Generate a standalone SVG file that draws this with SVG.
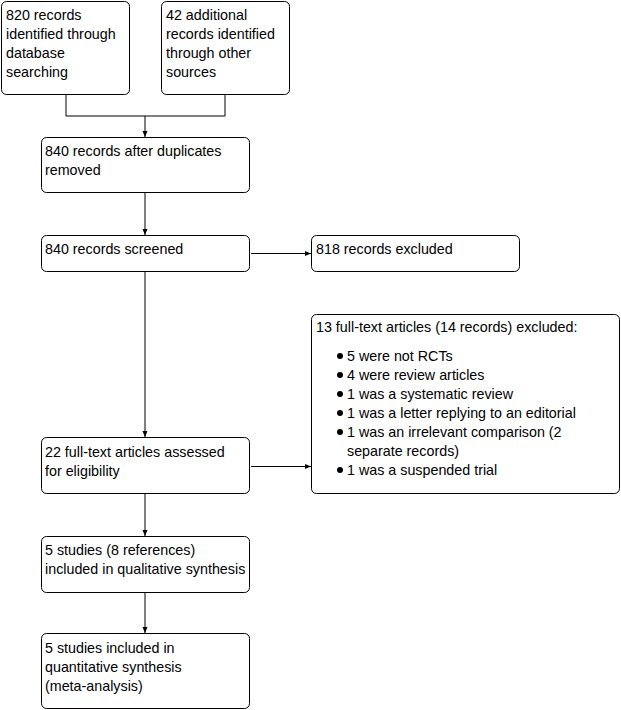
<svg xmlns="http://www.w3.org/2000/svg" width="621" height="710" viewBox="0 0 621 710">
<style>
.box{fill:#fff;stroke:#000;stroke-width:1}
.t{font-family:"Liberation Sans",Arial,sans-serif;font-size:14.3px;fill:#000}
.ln{fill:none;stroke:#000;stroke-width:1}
</style>
<defs>
<marker id="ah" markerWidth="8" markerHeight="8" refX="7" refY="4" orient="auto" markerUnits="userSpaceOnUse">
<path d="M1,1.5 L7,4 L1,6.5 Z" fill="#000"/>
</marker>
</defs>
<rect width="621" height="710" fill="#fff"/>
<g id="connectors">
<path class="ln" d="M66,95 V116 H225 V95"/>
<path class="ln" d="M145,116 V137" marker-end="url(#ah)"/>
<path class="ln" d="M145,193 V235" marker-end="url(#ah)"/>
<path class="ln" d="M251,253.5 H311" marker-end="url(#ah)"/>
<path class="ln" d="M145,271 V437" marker-end="url(#ah)"/>
<path class="ln" d="M251,466.5 H311" marker-end="url(#ah)"/>
<path class="ln" d="M145,493 V536" marker-end="url(#ah)"/>
<path class="ln" d="M145,592 V633" marker-end="url(#ah)"/>
</g>
<g id="n1">
<rect class="box" x="1.5" y="1.5" width="128" height="93" rx="5"/>
<text class="t" x="6" y="20">820 records</text>
<text class="t" x="6" y="39">identified through</text>
<text class="t" x="6" y="58">database</text>
<text class="t" x="6" y="77">searching</text>
</g>
<g id="n2">
<rect class="box" x="161.5" y="1.5" width="128" height="93" rx="5"/>
<text class="t" x="166" y="20">42 additional</text>
<text class="t" x="166" y="39">records identified</text>
<text class="t" x="166" y="58">through other</text>
<text class="t" x="166" y="77">sources</text>
</g>
<g id="n3">
<rect class="box" x="41.5" y="137.5" width="208" height="55" rx="5"/>
<text class="t" x="45" y="156">840 records after duplicates</text>
<text class="t" x="45" y="175">removed</text>
</g>
<g id="n4">
<rect class="box" x="41.5" y="235.5" width="208" height="36" rx="5"/>
<text class="t" x="45" y="254">840 records screened</text>
</g>
<g id="n5">
<rect class="box" x="311.5" y="235.5" width="208" height="36" rx="5"/>
<text class="t" x="316" y="254">818 records excluded</text>
</g>
<g id="n6">
<rect class="box" x="311.5" y="314.5" width="308" height="179" rx="5"/>
<text class="t" x="316" y="332">13 full-text articles (14 records) excluded:</text>
<circle cx="340" cy="356" r="3"/>
<text class="t" x="347" y="361">5 were not RCTs</text>
<circle cx="340" cy="375" r="3"/>
<text class="t" x="347" y="380">4 were review articles</text>
<circle cx="340" cy="394" r="3"/>
<text class="t" x="347" y="399">1 was a systematic review</text>
<circle cx="340" cy="413" r="3"/>
<text class="t" x="347" y="418">1 was a letter replying to an editorial</text>
<circle cx="340" cy="432" r="3"/>
<text class="t" x="347" y="437">1 was an irrelevant comparison (2</text>
<text class="t" x="347" y="456">separate records)</text>
<circle cx="340" cy="470" r="3"/>
<text class="t" x="347" y="475">1 was a suspended trial</text>
</g>
<g id="n7">
<rect class="box" x="41.5" y="437.5" width="208" height="56" rx="5"/>
<text class="t" x="45" y="457">22 full-text articles assessed</text>
<text class="t" x="45" y="476">for eligibility</text>
</g>
<g id="n8">
<rect class="box" x="41.5" y="536.5" width="208" height="56" rx="5"/>
<text class="t" x="45" y="555">5 studies (8 references)</text>
<text class="t" x="45" y="574">included in qualitative synthesis</text>
</g>
<g id="n9">
<rect class="box" x="41.5" y="633.5" width="208" height="75" rx="5"/>
<text class="t" x="45" y="653">5 studies included in</text>
<text class="t" x="45" y="672">quantitative synthesis</text>
<text class="t" x="45" y="691">(meta-analysis)</text>
</g>
</svg>
